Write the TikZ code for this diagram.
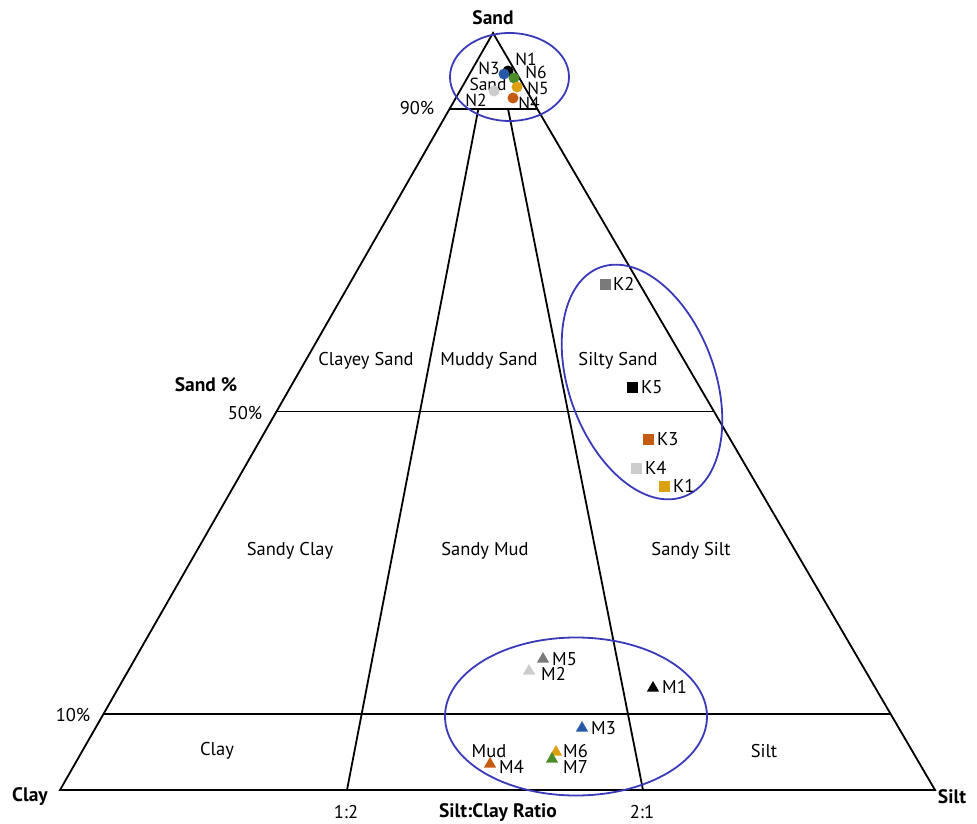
\documentclass[tikz,border=0pt]{standalone}
\usepackage{fontspec}
\setmainfont{PT Sans}
\usetikzlibrary{calc,shapes.geometric}
\definecolor{ellblue}{HTML}{3A3AB8}
\definecolor{pblue}{HTML}{2559A8}
\definecolor{pgreen}{HTML}{4C8C2B}
\definecolor{pgold}{HTML}{DDA010}
\definecolor{pred}{HTML}{C55A11}
\definecolor{pgray}{HTML}{7A7A7A}
\definecolor{plgray}{HTML}{CCCCCC}
\tikzset{
  tri/.style={line width=1.8pt, black},
  ell/.style={line width=1.8pt, ellblue},
  lab/.style={font=\fontsize{18.5}{20}\selectfont, inner sep=0pt},
  nlab/.style={font=\fontsize{17.5}{19}\selectfont, inner sep=0pt, text height=12.5pt, text depth=0pt},
  mlab/.style={font=\fontsize{18.5}{20}\selectfont, inner sep=0pt, text height=13pt, text depth=0pt, anchor=west},
  axl/.style={font=\fontsize{19.5}{21}\selectfont\bfseries, inner sep=0pt},
  pc/.style={circle, fill=#1, minimum size=11pt, inner sep=0pt},
  ps/.style={rectangle, fill=#1, minimum size=11pt, inner sep=0pt},
  pt/.style={regular polygon, regular polygon sides=3, fill=#1, minimum size=14pt, inner sep=0pt},
}
\begin{document}
\begin{tikzpicture}[x=1pt,y=-1pt]
\useasboundingbox (0,0) rectangle (977,824);
% corners
\coordinate (S) at (493,33);
\coordinate (C) at (60,790);
\coordinate (T) at (935,790);
\coordinate (r1) at (347,790);
\coordinate (r2) at (643,790);
\coordinate (a90) at ($(C)!0.9!(S)$);
\coordinate (b90) at ($(T)!0.9!(S)$);
\coordinate (a50) at ($(C)!0.5!(S)$);
\coordinate (b50) at ($(T)!0.5!(S)$);
\coordinate (a10) at ($(C)!0.1!(S)$);
\coordinate (b10) at ($(T)!0.1!(S)$);
\coordinate (e1) at ($(r1)!0.9!(S)$);
\coordinate (e2) at ($(r2)!0.9!(S)$);
% triangle and grid
\draw[tri] (S) -- (C) -- (T) -- cycle;
\draw[tri] (a90) -- (b90);
\draw[tri] (a50) -- (b50);
\draw[tri] (a10) -- (b10);
\draw[tri] (r1) -- (e1);
\draw[tri] (r2) -- (e2);
% ellipses
\draw[ell] (509.5,77) ellipse [x radius=59.5, y radius=44];
\draw[ell] (642,382) ellipse [x radius=73, y radius=122, rotate=20];
\draw[ell] (576,716.5) ellipse [x radius=131, y radius=79];
% axis labels
\node[axl] (lsand) at (493,18) {Sand};
\node[axl] (lclay) at (30,797) {Clay};
\node[axl] (lsilt) at (952,797) {Silt};
\node[axl] (lsandp) at (206,385) {Sand \%};
\node[axl] (lratio) at (498,813) {Silt:Clay Ratio};
\node[lab] (p90) at (417,108) {90\%};
\node[lab] (p50) at (245,413) {50\%};
\node[lab] (p10) at (73,715) {10\%};
\node[lab] (q12) at (346,812) {1:2};
\node[lab] (q21) at (642,812) {2:1};
% region labels
\node[lab] (rcs) at (366,361) {Clayey Sand};
\node[lab] (rms) at (489,361) {Muddy Sand};
\node[lab] (rss) at (618,361) {Silty Sand};
\node[lab] (rsc) at (290,551) {Sandy Clay};
\node[lab] (rsm) at (485,551) {Sandy Mud};
\node[lab] (rst) at (691,551) {Sandy Silt};
\node[lab] (rc) at (217,751) {Clay};
\node[mlab,anchor=center] (rm) at (489,751) {Mud};
\node[lab] (rt) at (764,751) {Silt};
\node[nlab] (rsd) at (488,84) {Sand};
% N points
\node[pc=black] (n1) at (508,71) {};
\node[pc=pblue] (n3) at (504,74) {};
\node[pc=pgreen] (n6) at (514,78) {};
\node[pc=pgold] (n5) at (517,87) {};
\node[pc=plgray] (n2) at (494,91) {};
\node[pc=pred] (n4) at (513,98) {};
\node[nlab] (ln1) at (526,59) {N1};
\node[nlab] (ln3) at (489,68) {N3};
\node[nlab] (ln6) at (536,72) {N6};
\node[nlab] (ln5) at (538,88.5) {N5};
\node[nlab] (ln2) at (476,100) {N2};
\node[nlab] (ln4) at (529,103) {N4};
% K points
\node[ps=pgray] (k2) at (605,284) {};
\node[ps=black] (k5) at (632,387) {};
\node[ps=pred] (k3) at (648,439) {};
\node[ps=plgray] (k4) at (636,468) {};
\node[ps=pgold] (k1) at (664,486) {};
\node[lab,anchor=west] (lk2) at (613,284) {K2};
\node[lab,anchor=west] (lk5) at (641,387) {K5};
\node[lab,anchor=west] (lk3) at (657,439) {K3};
\node[lab,anchor=west] (lk4) at (645,468) {K4};
\node[lab,anchor=west] (lk1) at (673,486) {K1};
% M points
\node[pt=pgray] (m5) at (543,659) {};
\node[pt=plgray] (m2) at (529,671) {};
\node[pt=black] (m1) at (653,688) {};
\node[pt=pblue] (m3) at (582,728) {};
\node[pt=pgold] (m6) at (556,752) {};
\node[pt=pgreen] (m7) at (552,759) {};
\node[pt=pred] (m4) at (490,764) {};
\node[mlab] (lm5) at (552,659) {M5};
\node[mlab] (lm2) at (541,674) {M2};
\node[mlab] (lm1) at (662,687) {M1};
\node[mlab] (lm3) at (591,728) {M3};
\node[mlab] (lm6) at (563,750.5) {M6};
\node[mlab] (lm7) at (563,767) {M7};
\node[mlab] (lm4) at (499,767) {M4};
\end{tikzpicture}
\end{document}
